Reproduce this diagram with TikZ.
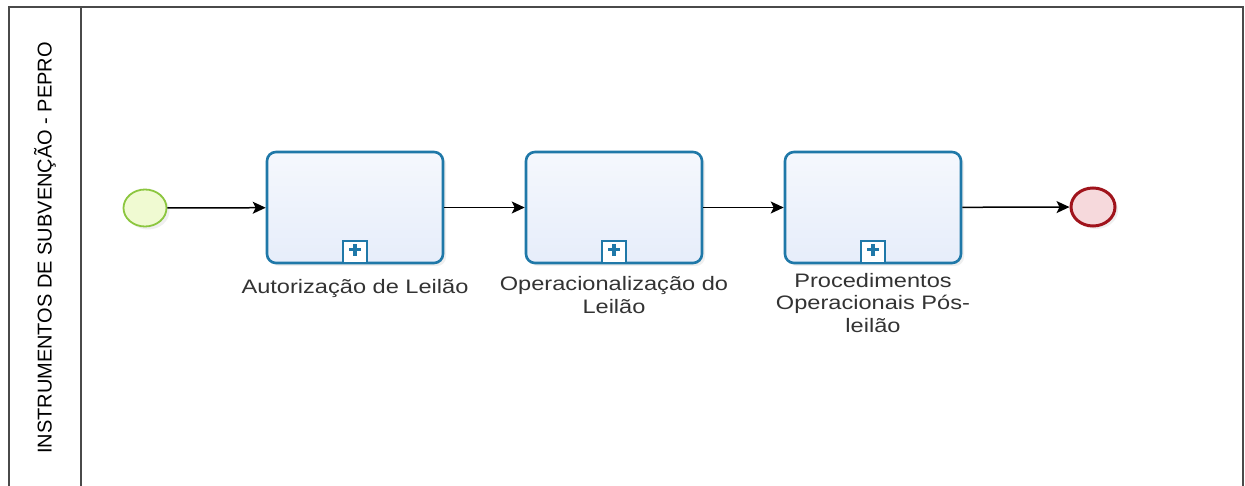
\documentclass[tikz,border=0pt]{standalone}
\usepackage{fontspec}
\setmainfont{Liberation Sans}
\newfontfamily\lblfont[FakeStretch=1.21]{Liberation Sans}
\usetikzlibrary{arrows.meta,shadows,shapes.geometric}
\definecolor{poolline}{HTML}{4A4A4A}
\definecolor{taskblue}{HTML}{1F78A8}
\definecolor{taskfill}{HTML}{E6EDFA}
\definecolor{startfill}{HTML}{F0FAD2}
\definecolor{startline}{HTML}{8CC63F}
\definecolor{endfill}{HTML}{F6D9DC}
\definecolor{endline}{HTML}{A0141C}
\definecolor{lbltext}{HTML}{333333}
\tikzset{
  pool/.style={draw=poolline, line width=1.6pt},
  taskbox/.style={draw=taskblue, line width=2.6pt, rounded corners=9pt,
    minimum width=176pt, minimum height=111pt, inner sep=0pt,
    top color=white!60!taskfill, bottom color=taskfill,
    drop shadow={shadow xshift=3pt, shadow yshift=-3pt, opacity=0.12}},
  submarker/.style={draw=taskblue, line width=1.8pt, fill=white,
    minimum width=24pt, minimum height=22pt, inner sep=0pt},
  startev/.style={ellipse, draw=startline, line width=1.8pt, fill=startfill,
    minimum width=43pt, minimum height=37pt, inner sep=0pt,
    drop shadow={shadow xshift=3pt, shadow yshift=-3pt, opacity=0.12}},
  endev/.style={ellipse, draw=endline, line width=3pt, fill=endfill,
    minimum width=44pt, minimum height=38pt, inner sep=0pt,
    drop shadow={shadow xshift=3pt, shadow yshift=-3pt, opacity=0.12}},
  flow/.style={draw=black, line width=1.5pt, -{Stealth[length=13pt,width=12pt,inset=3pt]}},
  tasklabel/.style={font=\lblfont\fontsize{19.5}{22}\selectfont, text=lbltext,
    align=center, inner sep=0pt, anchor=base},
  pooltitle/.style={font=\fontsize{20}{20}\selectfont, text=black, rotate=90,
    inner sep=0pt}
}
\begin{document}
\begin{tikzpicture}[x=1pt,y=-1pt]
\useasboundingbox (0,0) rectangle (1245,486);
\fill[white] (0,0) rectangle (1245,486);
% pool
\draw[pool] (9,486) -- (9,7) -- (1243,7) -- (1243,486);
\draw[pool] (81,7) -- (81,486);
\node[pooltitle] (title) at (45,248) {INSTRUMENTOS DE SUBVENÇÃO - PEPRO};
% events
\node[startev] (start) at (145,208) {};
\node[endev] (end) at (1093,207) {};
% tasks
\node[taskbox] (t1) at (355,207.5) {};
\node[taskbox] (t2) at (614,207.5) {};
\node[taskbox] (t3) at (873,207.5) {};
% markers
\foreach \t in {t1,t2,t3}{
  \node[submarker, anchor=south] (\t m) at (\t.south) {};
  \fill[taskblue] ([yshift=2.5pt]\t m.center) ++(-6pt,-1.6pt) rectangle ++(12pt,3.2pt);
  \fill[taskblue] ([yshift=2.5pt]\t m.center) ++(-1.6pt,-6pt) rectangle ++(3.2pt,12pt);
}
% labels (anchor = baseline of last line)
\node[tasklabel] (l1) at (355,294) {Autorização de Leilão};
\node[tasklabel] (l2) at (614,313) {Operacionalização do\\Leilão};
\node[tasklabel] (l3) at (873,332) {Procedimentos\\Operacionais Pós-\\leilão};
% flows
\draw[flow] (start) -- (t1);
\draw[flow] (t1) -- (t2);
\draw[flow] (t2) -- (t3);
\draw[flow] (t3) -- (end);
\end{tikzpicture}
\end{document}
